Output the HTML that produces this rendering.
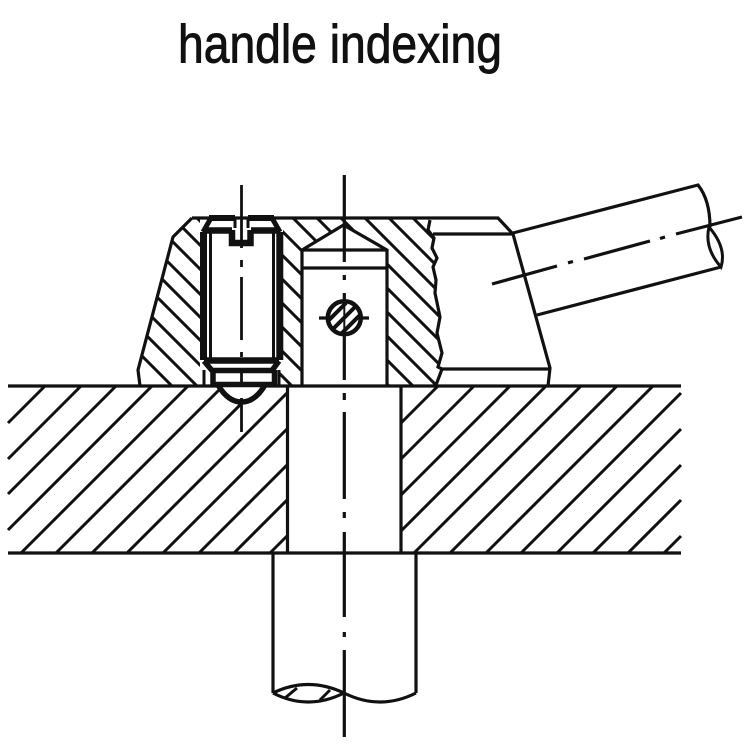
<!DOCTYPE html>
<html><head><meta charset="utf-8"><style>html,body{margin:0;padding:0;background:#fff;width:750px;height:745px;overflow:hidden}svg{display:block}</style></head>
<body>
<svg width="750" height="745" viewBox="0 0 750 745" xmlns="http://www.w3.org/2000/svg">
<defs>
<clipPath id="bd"><polygon points="192,218 437,218 428,230 434,238 432,248 437,258 433,267 436,280 435,293 440,317 437,333 442,353 438,367 442,369 436,386 140,386 138,370 173,237"/></clipPath>
<clipPath id="cc"><circle cx="344.300" cy="317.800" r="16"/></clipPath>
</defs>
<rect width="750" height="745" fill="#fff"/>
<text x="178" y="62.500" font-family="'Liberation Sans',sans-serif" font-size="54" fill="#111" stroke="#111" stroke-width="0.900" textLength="324" lengthAdjust="spacingAndGlyphs">handle indexing</text>

<g stroke="#111" stroke-width="3" fill="none">
<!-- plate hatch left -->
<path d="M8,423L45,386M8,459L81,386M8,494L116,386M8,530L152,386M21,553L188,386M56,553L223,386M92,553L259,386M127,553L287.500,392.500M163,553L287.500,428.500M199,553L287.500,464.500M234,553L287.500,499.500M270,553L287.500,535.500"/>
<!-- plate hatch right -->
<path d="M401,423L438,386M401,459L474,386M401,495L510,386M401,531L546,386M414,553L581,386M450,553L617,386M486,553L653,386M521,553L681,393M557,553L681,429M593,553L681,465M628,553L681,500M664,553L681,536"/>
<!-- body hatch -->
<path clip-path="url(#bd)" d="M4,218L172,386M29,218L197,386M53,218L221,386M78,218L246,386M101,218L269,386M124,218L292,386M149,218L317,386M173,218L341,386M197,218L365,386M221,218L389,386M245,218L413,386M269,218L437,386M293,218L461,386M317,218L485,386M341,218L509,386M365,218L533,386M389,218L557,386M413,218L581,386M437,218L605,386"/>
<!-- white cut for screw and pin -->
<rect x="200" y="219" width="83" height="144" fill="#fff" stroke="none"/>
<rect x="200" y="363" width="79" height="23" fill="#fff" stroke="none"/>
<polygon points="302,250 343.500,225 387,250 387,385 302,385" fill="#fff" stroke="none"/>
<!-- body outline -->
<path d="M192,218H498L513,234L550,368L548,386M192,218L173,237L138,370L140,386" stroke-width="3.200"/>
<path d="M430,220L428,230L434,238L432,248L437,258L433,267L436,280L435,293L440,317L437,333L442,353L438,367L442,369L436,385" stroke-width="3.200"/>
<path d="M433,234H513M440,369H550" stroke-width="3.200"/>
<!-- pin -->
<path d="M302,386V250L343.500,225L387,250V386M302,250H387M302,268H387" stroke-width="3.200"/>
<!-- plate outlines -->
<path d="M8,386H681M8,553H681M287.500,386V553M401,386V553" stroke-width="3.200"/>
<!-- lever -->
<path d="M513,233L698,185Q710,200 710,227M537,315L721,267" stroke-width="3.200"/>
<path d="M709,227Q704,248 721,267Q727,248 709,227" stroke-width="3"/>
<path d="M492,284L557,266M568,262.800L573,261.500M584,259L650,241M660,238.500L665,237M676,234L742,217" stroke-width="3.200"/>
<!-- lower shaft -->
<path d="M273,553V693M416,553V693" stroke-width="3.200"/>
<path d="M273,693Q308,676 344,693Q380,711 416,693M273,693Q308,711 344,693" stroke-width="3.200"/>
<path d="M285,698L297,688M320,700L330,690" stroke-width="3"/>
<!-- pin axis -->
<path d="M344.300,175V262M344.300,275V280M344.300,293V300M344.300,335V380M344.300,393V400M344.300,412V499M344.300,512V518M344.300,532V617M344.300,632V637M344.300,650V737" stroke-width="3.200"/>
<path d="M319,318H369" stroke-width="3.200"/>
<!-- small circle -->
<circle cx="344.300" cy="317.800" r="16.500" fill="#fff" stroke-width="4.500"/>
<path clip-path="url(#cc)" d="M326,323L346,303M326,336L359,303M331,344L364,311M344,344L364,324" stroke-width="4"/>
<path d="M344.300,300V335" stroke-width="2"/>
<!-- screw -->
<path d="M203.500,232V360M279.800,232V360" stroke-width="7"/>
<path d="M210.500,232V358M273.500,232V358" stroke-width="3"/>
<path d="M203,232L211,218M280,232L272,218" stroke-width="5"/>
<path d="M209,218H235M248,218H274" stroke-width="6"/>
<path d="M205,230.500H232M251,230.500H278" stroke-width="6.500"/>
<path d="M232,230V243H250.500V230" stroke-width="6.500"/>
<path d="M235,218V228M248,218V228" stroke-width="3"/>
<path d="M204,360.500H279" stroke-width="6.500"/>
<path d="M204,361L212,370.500H272L279,361" stroke-width="5.500"/>
<path d="M204,370V386M279,370V386" stroke-width="3"/>
<path d="M218,385Q228,403 241.500,403Q255,403 265,385Z" fill="#fff" stroke="none"/>
<path d="M213,370V384.500H274.500V370" stroke-width="5.500"/>
<path d="M218,385Q228,402 241.500,402Q255,402 265,385" stroke-width="5.500"/>
<path d="M241.500,185V248M241.500,260V267M241.500,277V340M241.500,352V357M241.500,370V386M241.500,398V432" stroke-width="2.800"/>
</g>
</svg>
</body></html>
